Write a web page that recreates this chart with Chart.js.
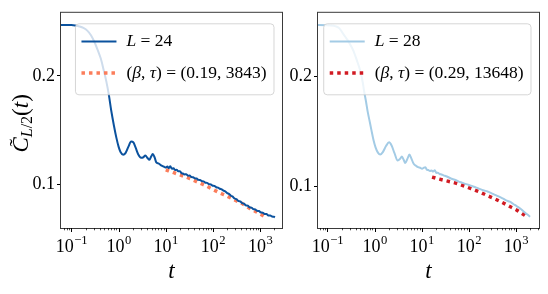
<!DOCTYPE html>
<html>
<head>
<meta charset="utf-8">
<script src="https://cdn.jsdelivr.net/npm/chart.js@4.4.1/dist/chart.umd.min.js"></script>
<style>
body { margin: 0; background: #fff; width: 548px; height: 294px; position: relative; overflow: hidden; }
.panel { position: absolute; top: 0; height: 294px; }
</style>
</head>
<body>
<div class="panel" style="left:0;width:290px"><canvas id="left"></canvas></div>
<div class="panel" style="left:290px;width:258px"><canvas id="right"></canvas></div>
<script>
// axis ticks
const xMajor = [0.1, 1, 10, 100, 1000];
const xExps = ['\u22121', '0', '1', '2', '3'];
const yTicks = [0.1, 0.2];

// L = 24
const t24 = [0.055, 0.08, 0.1, 0.12, 0.15, 0.18, 0.22, 0.26, 0.31, 0.36, 0.42, 0.48, 0.55, 0.62, 0.7, 0.8, 0.9, 1.0, 1.1, 1.25,
  1.4, 1.6, 1.85, 2.05, 2.3, 2.6, 3.0, 3.3, 3.7, 4.1, 4.5, 4.9, 5.3, 5.8, 6.3, 7, 7.8, 8.6, 9.3,
  10, 10.8, 11.6, 12.5, 13.5, 14.6, 15.8, 17, 18.4, 20, 21.5, 23, 25, 27, 29.5, 32, 35, 38, 41, 45, 49, 53, 58, 63, 69, 75,
  82, 90, 98, 107, 117, 128, 140, 153, 167, 182, 200, 218, 240, 262, 287, 315, 345, 378, 414, 453, 497, 545, 597, 654, 716,
  785, 860, 942, 1030, 1130, 1240, 1360, 1490, 1630, 1790, 1960, 2050];
const c24 = [0.2469, 0.2469, 0.2468, 0.2464, 0.2455, 0.2442, 0.2415, 0.2375, 0.2310, 0.2240, 0.2160, 0.2060, 0.1950, 0.1830, 0.1680, 0.1540, 0.1430, 0.1350, 0.1300, 0.1276,
  0.1290, 0.1345, 0.1396, 0.1390, 0.1340, 0.1280, 0.1248, 0.1250, 0.1268, 0.1245, 0.1228, 0.1258, 0.1283, 0.1250, 0.1205, 0.1195, 0.1180, 0.1170, 0.1164,
  0.1158, 0.1166, 0.1152, 0.1168, 0.1146, 0.1150, 0.1134, 0.1138, 0.1122, 0.1124, 0.1106, 0.1102, 0.1094, 0.1096, 0.1082, 0.1084, 0.1070, 0.1068, 0.1058, 0.1056, 0.1044, 0.1043, 0.1032, 0.1030, 0.1018, 0.1016,
  0.1004, 0.1002, 0.0990, 0.0988, 0.0976, 0.0973, 0.0962, 0.0957, 0.0944, 0.0938, 0.0922, 0.0915, 0.0898, 0.0890, 0.0872, 0.0866, 0.0850, 0.0845, 0.0830, 0.0825, 0.0810, 0.0806, 0.0792, 0.0789, 0.0775,
  0.0772, 0.0759, 0.0757, 0.0744, 0.0742, 0.0730, 0.0729, 0.0717, 0.0716, 0.0706, 0.0704, 0.0699];
const tFit24 = [10, 14.8, 21.4, 32.4, 46.8, 67.6, 97.7, 141, 204, 295, 437, 603, 871, 1260, 1400];
const cFit24 = [0.1137, 0.1110, 0.1085, 0.1055, 0.1024, 0.0994, 0.0957, 0.0923, 0.0891, 0.0857, 0.0820, 0.0781, 0.0745, 0.0704, 0.0693];

// L = 28
const t28 = [0.055, 0.1, 0.12, 0.15, 0.18, 0.22, 0.27, 0.32, 0.36, 0.42, 0.5, 0.56, 0.6, 0.66, 0.71, 0.78, 0.85, 0.95, 1.05, 1.18,
  1.32, 1.5, 1.75, 2.04, 2.3, 2.65, 3.1, 3.5, 3.8, 4.15, 4.47, 5.0, 5.5, 6.0, 6.76, 7.6, 8.4,
  9.3, 10.2, 11, 12, 12.8, 13.8, 15, 16.2, 17.5, 19, 20.5, 22, 24, 26.5, 29, 33, 38, 45, 52, 60, 72, 85, 100, 120,
  145, 175, 210, 250, 300, 360, 430, 520, 620, 740, 880, 1050, 1250, 1500, 1750, 2000];
const c28 = [0.2470, 0.2469, 0.2466, 0.2458, 0.2440, 0.2385, 0.2330, 0.2275, 0.2230, 0.2150, 0.2048, 0.1950, 0.1867, 0.1770, 0.1686, 0.1600, 0.1520, 0.1420, 0.1353, 0.1305,
  0.1287, 0.1310, 0.1365, 0.1399, 0.1370, 0.1300, 0.1233, 0.1250, 0.1270, 0.1240, 0.1210, 0.1250, 0.1287, 0.1255, 0.1203, 0.1185, 0.1172,
  0.1167, 0.1158, 0.1166, 0.1172, 0.1150, 0.1146, 0.1138, 0.1142, 0.1132, 0.1145, 0.1120, 0.1122, 0.1110, 0.1106, 0.1098, 0.1090, 0.1078, 0.1064, 0.1055, 0.1043, 0.1031, 0.1020, 0.1010, 0.0998,
  0.0986, 0.0972, 0.0960, 0.0950, 0.0936, 0.0920, 0.0905, 0.0888, 0.0870, 0.0857, 0.0836, 0.0815, 0.0793, 0.0764, 0.0740, 0.0720];
const tFit28 = [16.6, 24, 35.5, 52.5, 77.6, 112, 162, 240, 347, 501, 724, 1047, 1514, 1600];
const cFit28 = [0.1082, 0.1063, 0.1045, 0.1027, 0.1003, 0.0976, 0.0949, 0.0916, 0.0885, 0.0852, 0.0816, 0.0780, 0.0735, 0.0728];

const labels24 = ['L = 24', '(\u03b2, \u03c4) = (0.19, 3843)'];
const labels28 = ['L = 28', '(\u03b2, \u03c4) = (0.29, 13648)'];

const serif = '"Liberation Serif", "DejaVu Serif", serif';
const mathChars = 'L\u03b2\u03c4t';

function pts(ts, cs) {
  return ts.map((t, i) => ({ x: t, y: cs[i] }));
}

function textWidth(ctx, text, size) {
  let w = 0;
  for (const ch of text) {
    ctx.font = (mathChars.includes(ch) ? 'italic ' : '') + size + 'px ' + serif;
    w += ctx.measureText(ch).width;
  }
  return w;
}

function drawText(ctx, text, x, y, size) {
  for (const ch of text) {
    ctx.font = (mathChars.includes(ch) ? 'italic ' : '') + size + 'px ' + serif;
    ctx.fillText(ch, x, y);
    x += ctx.measureText(ch).width;
  }
}

function roundBox(ctx, x, y, w, h, r) {
  ctx.beginPath();
  ctx.moveTo(x + r, y);
  ctx.arcTo(x + w, y, x + w, y + h, r);
  ctx.arcTo(x + w, y + h, x, y + h, r);
  ctx.arcTo(x, y + h, x, y, r);
  ctx.arcTo(x, y, x + w, y, r);
  ctx.closePath();
}

const panelPlugin = {
  id: 'panel',
  afterDatasetsDraw(chart, args, opts) {
    const ctx = chart.ctx, a = chart.chartArea, xs = chart.scales.x;
    ctx.save();

    // legend, drawn over the lines like matplotlib's
    const fs = 17.5;
    const rows = chart.data.datasets;
    const tw = Math.max(...rows.map(d => textWidth(ctx, d.label, fs)));
    const w = 51 + tw + 7.5, h = 71;
    const bx = a.right - 8 - w, by = a.top + 11;
    roundBox(ctx, bx, by, w, h, 3.5);
    ctx.fillStyle = 'rgba(255,255,255,0.8)';
    ctx.fill();
    ctx.strokeStyle = 'rgba(204,204,204,0.8)';
    ctx.lineWidth = 1;
    ctx.stroke();
    rows.forEach((d, i) => {
      const cy = by + 17.6 + i * 31.7;
      ctx.strokeStyle = d.borderColor;
      ctx.lineWidth = d.borderWidth;
      ctx.setLineDash(d.borderDash || []);
      ctx.beginPath();
      ctx.moveTo(bx + 6, cy);
      ctx.lineTo(bx + 41, cy);
      ctx.stroke();
      ctx.setLineDash([]);
      ctx.fillStyle = '#000';
      ctx.textBaseline = 'middle';
      ctx.textAlign = 'left';
      drawText(ctx, d.label, bx + 51, cy, fs);
    });

    // frame
    ctx.strokeStyle = '#3a3a3a';
    ctx.lineWidth = 1;
    ctx.strokeRect(a.left - 0.5, a.top - 0.5, a.right - a.left + 1, a.bottom - a.top + 1);

    // x ticks, major and minor
    ctx.strokeStyle = '#000';
    for (let d = 0.01; d <= 1000; d *= 10) {
      for (let m = 1; m <= 9; m++) {
        const v = m * d;
        if (v < xs.min || v > xs.max) continue;
        const px = Math.round(xs.getPixelForValue(v)) + 0.5;
        ctx.lineWidth = m === 1 ? 1 : 0.7;
        ctx.beginPath();
        ctx.moveTo(px, a.bottom);
        ctx.lineTo(px, a.bottom + (m === 1 ? 4 : 2.3));
        ctx.stroke();
      }
    }

    // x tick labels 10^n
    ctx.fillStyle = '#000';
    ctx.textBaseline = 'alphabetic';
    ctx.textAlign = 'left';
    xMajor.forEach((v, i) => {
      const px = xs.getPixelForValue(v);
      ctx.font = '18px ' + serif;
      const bw = ctx.measureText('10').width;
      ctx.font = '12.6px ' + serif;
      const ew = ctx.measureText(xExps[i]).width;
      const x0 = px - (bw + ew) / 2;
      ctx.font = '18px ' + serif;
      ctx.fillText('10', x0, a.bottom + 24);
      ctx.font = '12.6px ' + serif;
      ctx.fillText(xExps[i], x0 + bw + 0.5, a.bottom + 15.5);
    });

    // x title
    ctx.font = 'italic 23px ' + serif;
    ctx.textAlign = 'center';
    ctx.fillText('t', (a.left + a.right) / 2, 278);

    // y title with tilde and subscript
    if (opts.yTitle) {
      const parts = [['C', 'italic ', 23, 0], ['L', 'italic ', 16, 4], ['/2', '', 16, 4], ['(', '', 23, 0], ['t', 'italic ', 23, 0], [')', '', 23, 0]];
      ctx.textAlign = 'left';
      let total = 0;
      const ws = parts.map(p => { ctx.font = p[1] + p[2] + 'px ' + serif; const pw = ctx.measureText(p[0]).width; total += pw; return pw; });
      ctx.translate(28, (a.top + a.bottom) / 2 + 3);
      ctx.rotate(-Math.PI / 2);
      let x = -total / 2;
      parts.forEach((p, i) => {
        ctx.font = p[1] + p[2] + 'px ' + serif;
        ctx.fillText(p[0], x, p[3]);
        if (i === 0) {
          ctx.font = '22px ' + serif;
          ctx.textAlign = 'center';
          ctx.fillText('\u02dc', x + ws[0] / 2 + 2, -4);
          ctx.textAlign = 'left';
        }
        x += ws[i];
      });
    }
    ctx.restore();
  }
};

function makeChart(id, cfg) {
  return new Chart(document.getElementById(id), {
    type: 'line',
    data: {
      datasets: [{
        label: cfg.labels[0],
        data: pts(cfg.t, cfg.c),
        borderColor: cfg.colors[0],
        borderWidth: 2,
        pointRadius: 0,
        cubicInterpolationMode: 'monotone',
        fill: false
      },
      {
        label: cfg.labels[1],
        data: pts(cfg.tFit, cfg.cFit),
        borderColor: cfg.colors[1],
        borderWidth: 3.5,
        borderDash: [3.5, 4],
        pointRadius: 0,
        cubicInterpolationMode: 'monotone',
        fill: false
      }]
    },
    options: {
      responsive: true,
      maintainAspectRatio: false,
      animation: false,
      events: [],
      layout: { padding: { top: 11, right: cfg.padRight, left: 0, bottom: 0 } },
      plugins: {
        legend: { display: false },
        tooltip: { enabled: false },
        panel: { yTitle: cfg.yTitle }
      },
      scales: {
        x: {
          type: 'logarithmic',
          min: cfg.xMin,
          max: cfg.xMax,
          afterBuildTicks: s => { s.ticks = xMajor.map(v => ({ value: v })); },
          ticks: { display: false },
          grid: { display: false },
          border: { display: false },
          afterFit: s => { s.height = 66; }
        },
        y: {
          type: 'linear',
          min: cfg.yMin,
          max: cfg.yMax,
          afterBuildTicks: s => { s.ticks = yTicks.map(v => ({ value: v })); },
          ticks: {
            color: '#000',
            padding: 2,
            font: { family: serif, size: 18 },
            callback: v => v.toFixed(1)
          },
          grid: { drawOnChartArea: false, tickLength: 4, tickColor: '#000', tickWidth: 1 },
          border: { display: false },
          afterFit: s => { s.width = cfg.yWidth; }
        }
      }
    },
    plugins: [panelPlugin]
  });
}

makeChart('left', {
  t: t24, c: c24, tFit: tFit24, cFit: cFit24, labels: labels24,
  colors: ['#0b529e', '#fb7d5b'],
  xMin: 0.0603, xMax: 2900, yMin: 0.0601, yMax: 0.2581,
  yWidth: 61, padRight: 8, yTitle: true
});

makeChart('right', {
  t: t28, c: c28, tFit: tFit28, cFit: cFit28, labels: labels28,
  colors: ['#a3cbe5', '#d11a22'],
  xMin: 0.0631, xMax: 3090, yMin: 0.0617, yMax: 0.2582,
  yWidth: 28, padRight: 9, yTitle: false
});
</script>
</body>
</html>
